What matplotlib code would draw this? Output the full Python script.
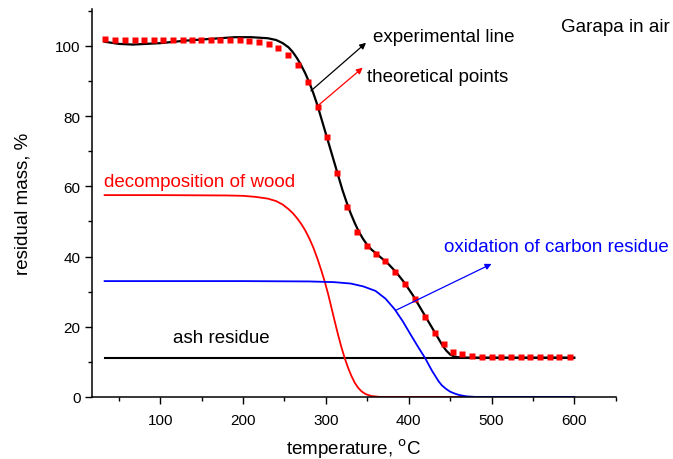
import numpy as np
import matplotlib.pyplot as plt
from matplotlib.ticker import MultipleLocator

plt.rcParams['font.family'] = ['Liberation Sans', 'DejaVu Sans']

# experimental curve
exp_T = [33, 50, 67, 100, 130, 160, 190, 210, 230, 240, 248, 255, 260, 265, 270,
         275, 280, 285, 290, 295, 300, 305, 310, 315, 320, 325, 330, 335, 340,
         345, 350, 355, 365, 375, 385, 395, 405, 415, 425, 435, 440, 445, 450,
         455, 460, 470, 600]
exp_m = [101.2, 100.6, 100.4, 100.8, 101.5, 102.0, 102.5, 102.5, 102.2, 101.7,
         100.8, 99.6, 98.3, 96.6, 94.6, 92.3, 89.6, 86.5, 83.0, 79.0, 75.0, 71.0,
         67.0, 63.0, 59.0, 55.5, 52.3, 49.5, 47.0, 45.0, 43.3, 42.0, 40.0, 38.0,
         35.5, 32.5, 29.0, 25.0, 21.0, 17.0, 15.0, 13.3, 12.1, 11.5, 11.3, 11.2,
         11.2]

# theoretical points
theo_T = [34, 46, 58, 70, 81, 93, 104, 116, 127, 138, 149, 161, 172, 184, 196,
          207, 219, 231, 242, 254, 266, 278, 290, 302, 314, 326, 338, 350, 361,
          372, 384, 396, 408, 420, 432, 443, 453, 464, 476, 488, 500, 511, 523,
          535, 547, 559, 570, 582, 595]
theo_m = [101.9, 101.8, 101.8, 101.8, 101.8, 101.8, 101.8, 101.8, 101.8, 101.8,
          101.8, 101.8, 101.8, 101.8, 101.6, 101.4, 101.0, 100.6, 99.5, 97.4,
          94.5, 89.7, 82.7, 74.0, 63.7, 54.0, 47.0, 42.9, 40.6, 38.6, 35.7, 32.1,
          27.8, 22.7, 18.3, 15.0, 12.9, 12.1, 11.6, 11.4, 11.4, 11.4, 11.4, 11.4,
          11.4, 11.4, 11.4, 11.4, 11.4]

# decomposition of wood
wood_T = [33, 100, 180, 200, 215, 230, 240, 248, 255, 260, 265, 270, 275, 280,
          285, 290, 295, 299, 303, 307, 311, 315, 319, 323, 327, 331, 335, 339,
          343, 348, 355, 365, 600]
wood_m = [57.5, 57.5, 57.4, 57.3, 57.0, 56.5, 55.8, 54.8, 53.5, 52.4, 51.0, 49.4,
          47.5, 45.2, 42.5, 39.3, 35.7, 32.6, 29.1, 25.2, 21.3, 17.5, 14.0, 10.9,
          8.2, 5.9, 4.0, 2.6, 1.6, 0.8, 0.25, 0.0, 0.0]

# oxidation of carbon residue
carb_T = [33, 200, 280, 310, 330, 345, 360, 372, 383, 393, 403, 412, 420, 428,
          436, 440, 445, 450, 455, 460, 465, 470, 480, 600]
carb_m = [33.0, 33.0, 32.9, 32.7, 32.3, 31.5, 30.2, 28.0, 25.0, 21.5, 17.5, 14.0,
          11.0, 7.5, 4.5, 3.3, 2.3, 1.5, 1.0, 0.6, 0.35, 0.15, 0.0, 0.0]

# ash residue
ash_T = [33, 600]
ash_m = [11.2, 11.2]

fig = plt.figure(figsize=(6.73, 4.6), dpi=100)
ax = fig.add_axes([0.137, 0.135, 0.778, 0.843])

ax.plot(ash_T, ash_m, color='black', lw=1.5)
ax.plot(wood_T, wood_m, color='#ff0000', lw=1.3)
ax.plot(carb_T, carb_m, color='#0000ff', lw=1.3)
ax.plot(exp_T, exp_m, color='black', lw=1.6)
ax.plot(theo_T, theo_m, 's', color='#ff0000', ms=4.3, mec='none')

ax.set_xlim(18, 650)
ax.set_ylim(0, 110.5)
ax.xaxis.set_major_locator(MultipleLocator(100))
ax.xaxis.set_minor_locator(MultipleLocator(50))
ax.yaxis.set_major_locator(MultipleLocator(20))
ax.yaxis.set_minor_locator(MultipleLocator(10))
ax.tick_params(which='major', direction='out', length=4.8, width=1.0, labelsize=11)
ax.tick_params(axis='x', which='major', pad=7)
ax.tick_params(which='minor', direction='out', length=3.1, width=1.0)
for s in ['top', 'right']:
    ax.spines[s].set_visible(False)
for s in ['left', 'bottom']:
    ax.spines[s].set_linewidth(1.1)

ax.set_xlabel('temperature, $^{\\rm o}$C', fontsize=13.5, labelpad=7)
ax.set_ylabel('residual mass, %', fontsize=13.5, labelpad=17)

ax.text(357, 102.6, 'experimental line', fontsize=13.5, va='center')
ax.text(350, 91.2, 'theoretical points', fontsize=13.5, va='center')
ax.text(584, 105.5, 'Garapa in air', fontsize=13.5, va='center')
ax.text(32, 61.5, 'decomposition of wood', fontsize=13.5, va='center', color='#ff0000')
ax.text(443, 42.8, 'oxidation of carbon residue', fontsize=13.5, va='center', color='#0000ff')
ax.text(115, 16.9, 'ash residue', fontsize=13.5, va='center')

ax.annotate('', xy=(348.5, 100.9), xytext=(282, 87.2),
            arrowprops=dict(arrowstyle='-|>', color='black', lw=0.9, mutation_scale=9,
                            shrinkA=0, shrinkB=0))
ax.annotate('', xy=(344.5, 93.8), xytext=(290, 82.9),
            arrowprops=dict(arrowstyle='-|>', color='#ff0000', lw=0.9, mutation_scale=9,
                            shrinkA=0, shrinkB=0))
ax.annotate('', xy=(500, 37.9), xytext=(384.7, 24.7),
            arrowprops=dict(arrowstyle='-|>', color='#0000ff', lw=0.9, mutation_scale=9,
                            shrinkA=0, shrinkB=0))

fig.savefig('out.png', dpi=100)
